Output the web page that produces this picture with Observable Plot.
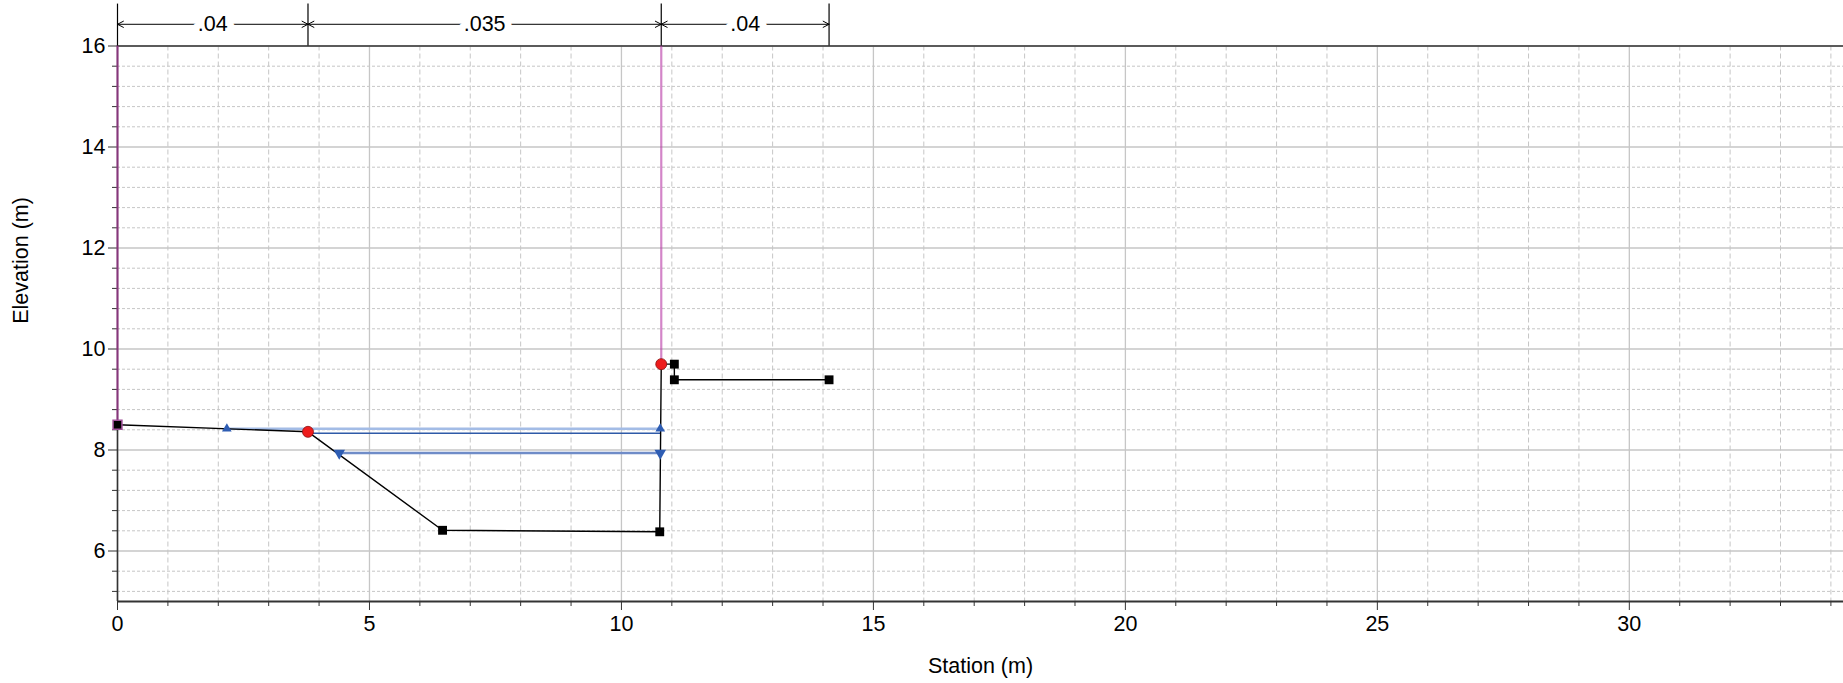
<!DOCTYPE html>
<html><head><meta charset="utf-8">
<script src="https://cdn.jsdelivr.net/npm/d3@7"></script>
<script src="https://cdn.jsdelivr.net/npm/@observablehq/plot@0.6"></script>
<style>body{margin:0;background:#fff;}</style>
</head><body><div id="chart"></div>
<script>
// Ground profile (station m, elevation m)
const groundStation = [0, 3.78, 6.45, 10.76, 10.79, 11.05, 11.05, 14.12];
const groundElev    = [8.50, 8.36, 6.41, 6.38, 9.70, 9.70, 9.39, 9.39];
// Bank stations (red markers)
const bankStation = [3.78, 10.79];
const bankElev    = [8.36, 9.70];
// Water surfaces
const ws1Station = [2.17, 10.77]; const ws1Elev = [8.42, 8.42];
const ws2Station = [3.78, 10.77]; const ws2Elev = [8.33, 8.33];
const ws3Station = [4.40, 10.77]; const ws3Elev = [7.94, 7.94];
// Limit (vertical) lines
const limitStation = [0, 10.79];
const limitBottom  = [8.50, 9.70];
// Manning's n breaks and values
const nBreaks = [0, 3.78, 10.79, 14.12];
const nLabels = [".04", ".035", ".04"];
// Ticks
const xMajor = [0, 5, 10, 15, 20, 25, 30];
const xMinor = [1,2,3,4,6,7,8,9,11,12,13,14,16,17,18,19,21,22,23,24,26,27,28,29,31,32,33,34];
const yMajor = [6, 8, 10, 12, 14, 16];
const yMinor = [5.2,5.6,6.4,6.8,7.2,7.6,8.4,8.8,9.2,9.6,10.4,10.8,11.2,11.6,12.4,12.8,13.2,13.6,14.4,14.8,15.2,15.6];

const ground = groundStation.map((s, i) => ({s, e: groundElev[i]}));
const bank = bankStation.map((s, i) => ({s, e: bankElev[i]}));
const isBank = d => bank.some(b => b.s === d.s && b.e === d.e);
const ws1 = ws1Station.map((s, i) => ({s, e: ws1Elev[i]}));
const ws2 = ws2Station.map((s, i) => ({s, e: ws2Elev[i]}));
const ws3 = ws3Station.map((s, i) => ({s, e: ws3Elev[i]}));
const limits = limitStation.map((s, i) => ({s, e: limitBottom[i]}));
const segs = nLabels.map((t, i) => ({a: nBreaks[i], b: nBreaks[i + 1], m: (nBreaks[i] + nBreaks[i + 1]) / 2, t}));
const annY = 16.43, annTop = 16.83;

const grid = "#c6c6c6";
const axisCol = "#333";
const font = "'Liberation Sans', Arial, sans-serif";
const fs = 21.5;

const chart = Plot.plot({
  width: 1843, height: 683,
  marginLeft: 117, marginRight: 0, marginTop: 45.5, marginBottom: 82,
  x: {domain: [0, 34.25]},
  y: {domain: [5, 16]},
  style: {fontFamily: font, fontSize: fs + "px", color: "#000", background: "#fff", overflow: "visible"},
  marks: [
    Plot.ruleX(xMinor, {stroke: grid, strokeDasharray: "5,3", strokeWidth: 1}),
    Plot.ruleY(yMinor, {stroke: grid, strokeDasharray: "3,2", strokeWidth: 1}),
    Plot.ruleX(xMajor, {stroke: grid, strokeWidth: 1.3}),
    Plot.ruleY(yMajor, {stroke: grid, strokeWidth: 1.3}),
    Plot.axisX(xMajor, {tickSize: 9, tickPadding: 5, fontSize: fs, stroke: axisCol, label: null, tickFormat: d => String(d)}),
    Plot.axisX(xMinor, {tickSize: 5, stroke: axisCol, label: null, tickFormat: () => ""}),
    Plot.axisY(yMajor, {tickSize: 9, tickPadding: 3, fontSize: fs, stroke: axisCol, label: null, tickFormat: d => String(d)}),
    Plot.axisY(yMinor, {tickSize: 5, stroke: axisCol, label: null, tickFormat: () => ""}),
    Plot.ruleY([5], {stroke: axisCol, strokeWidth: 2.2}),
    Plot.ruleX([0], {stroke: axisCol, strokeWidth: 1.6}),
    Plot.ruleY([16], {stroke: axisCol, strokeWidth: 1.6}),
    // limit lines
    Plot.ruleX(limits, {x: "s", y1: "e", y2: 16, stroke: "#b83aa6", strokeOpacity: 0.62, strokeWidth: 2.2}),
    // water surfaces
    Plot.line(ws1, {x: "s", y: "e", stroke: "#a3bce6", strokeWidth: 2.5}),
    Plot.line(ws2, {x: "s", y: "e", stroke: "#2f5aa8", strokeWidth: 1.5}),
    Plot.line(ws3, {x: "s", y: "e", stroke: "#6f8cc8", strokeWidth: 2.5}),
    // ground
    Plot.line(ground, {x: "s", y: "e", stroke: "#000", strokeWidth: 1.4}),
    Plot.dot(ground.filter(d => !isBank(d)), {x: "s", y: "e", symbol: "square", r: 5, fill: "#000"}),
    Plot.dot(ground.slice(0, 1), {x: "s", y: "e", symbol: "square", r: 5, fill: "none", stroke: "#a0509a", strokeWidth: 1.5}),
    Plot.dot(bank, {x: "s", y: "e", r: 5.5, fill: "#ee1c1c", stroke: "#8b1010", strokeWidth: 0.8}),
    Plot.dot(ws1, {x: "s", y: "e", symbol: "triangle", r: 3.6, fill: "#2e5db3"}),
    Plot.dot(ws3, {x: "s", y: "e", symbol: "triangle", r: 4.3, rotate: 180, fill: "#2e5db3"}),
    // Manning's n annotation
    Plot.ruleX(nBreaks, {y1: 16, y2: annTop, stroke: "#000", strokeWidth: 1.2}),
    Plot.arrow(segs, {x1: "m", x2: "a", y1: annY, y2: annY, stroke: "#000", strokeWidth: 1, headLength: 10, headAngle: 55}),
    Plot.arrow(segs, {x1: "m", x2: "b", y1: annY, y2: annY, stroke: "#000", strokeWidth: 1, headLength: 10, headAngle: 55}),
    Plot.text(segs, {x: "m", y: annY, text: "t", fill: "#000", stroke: "#fff", strokeWidth: 14, fontSize: fs}),
    // axis titles
    Plot.text(["Station (m)"], {frameAnchor: "bottom", dy: 71, fontSize: fs, fill: "#000"}),
    Plot.text(["Elevation (m)"], {frameAnchor: "left", dx: -96, rotate: -90, fontSize: fs, fill: "#000"})
  ]
});
document.getElementById("chart").append(chart);
</script>
</body></html>
